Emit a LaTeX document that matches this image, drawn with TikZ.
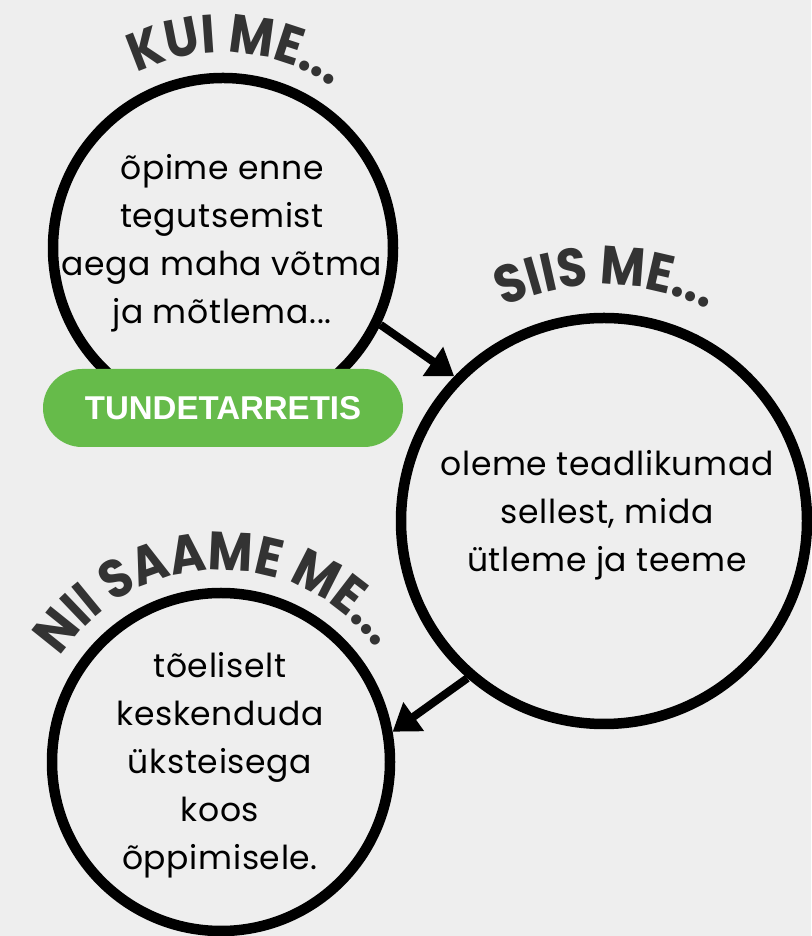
\documentclass[tikz,border=0pt]{standalone}
\usepackage{fontspec}
\setmainfont{Poppins}[LetterSpace=2]
\newfontfamily\pillfont{Liberation Sans}
\newfontfamily\headfont{Poppins}[FakeStretch=0.9]
\usetikzlibrary{decorations.text, arrows.meta}
\definecolor{bg}{HTML}{EEEEEE}
\definecolor{titlegray}{HTML}{333333}
\definecolor{pillgreen}{HTML}{66BB4A}
\newcommand\titlestyle{\color{titlegray}\headfont\bfseries\fontsize{54}{60}\selectfont}
\begin{document}
\begin{tikzpicture}[x=1pt,y=1pt,
  ring/.style={circle, draw=black, line width=10.5pt, minimum size=#1, inner sep=0pt},
  body/.style={align=center, font=\fontsize{33}{48}\selectfont, text=black, inner sep=0pt},
  arrowline/.style={draw=black, line width=8pt, -{Triangle[length=26pt,width=34pt]}},
  pillbox/.style={fill=pillgreen, rounded corners=39pt, minimum width=360pt, minimum height=78pt,
    text=white, font=\pillfont\bfseries\fontsize{33}{36}\selectfont, inner sep=0pt},
  curved/.style={decorate, decoration={text along path, text align=center, text={#1}}}
]
\fill[bg] (0,0) rectangle (811,936);
\useasboundingbox (0,0) rectangle (811,936);

\node[ring=340pt] (c1) at (223,688) {};
\node[ring=406pt] (c2) at (604,415) {};
\node[ring=338pt] (c3) at (221,174) {};

\node[body] (t1) at (222,693) {õpime enne\\tegutsemist\\aega maha võtma\\ja mõtlema...};
\node[body] (t2) at (607,420.5) {oleme teadlikumad\\sellest, mida\\ütleme ja teeme};
\node[body] (t3) at (220,170.5) {tõeliselt\\keskenduda\\üksteisega~\\koos\\õppimisele.};

\draw[arrowline] (c1.-26) -- (c2.136);
\draw[arrowline] (c2.229) -- (c3.10);

\node[pillbox] (pill) at (223,528) {TUNDETARRETIS};

\path[curved={|\titlestyle|KUI ME...}] (c1.center) ++(161:195) arc[start angle=161, end angle=11, radius=195];
\path[curved={|\titlestyle|SIIS ME...}] (c2.center) ++(164.5:236) arc[start angle=164.5, end angle=14.5, radius=236];
\path[curved={|\titlestyle|NII SAAME ME...}] (c3.center) ++(176.5:192) arc[start angle=176.5, end angle=6.5, radius=192];
\end{tikzpicture}
\end{document}
